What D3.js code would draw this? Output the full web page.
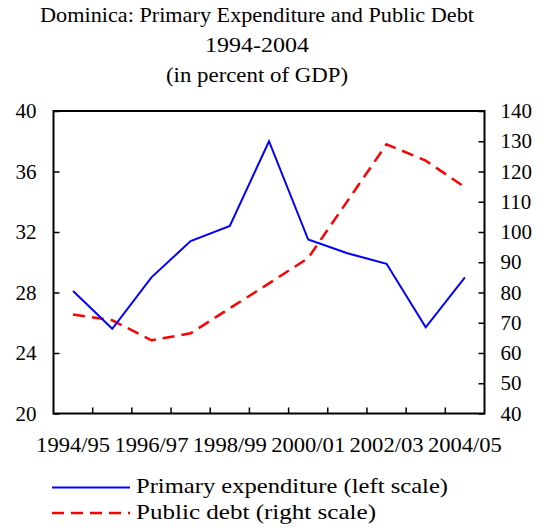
<!doctype html>
<html lang="en">
  <head>
    <meta charset="UTF-8" />
    <title>Dominica: Primary Expenditure and Public Debt</title>
    <script src="https://d3js.org/d3.v7.min.js"></script>
    <style>
      body {
        margin: 0;
        padding: 0;
        background: #fff;
      }
      svg text {
        font-family: 'Liberation Serif', 'Times New Roman', serif;
        fill: #000;
      }
    </style>
  </head>
  <body>
    <svg id="chart" width="541" height="527"></svg>

    <script>
      const years = [
        '1994/95', '1995/96', '1996/97', '1997/98', '1998/99', '1999/00',
        '2000/01', '2001/02', '2002/03', '2003/04', '2004/05',
      ];
      const expenditure = [28.1, 25.6, 29.0, 31.4, 32.4, 38.0, 31.5, 30.6, 29.9, 25.7, 29.0];
      const debt = [72.7, 70.8, 64.2, 66.5, 74.8, 83.0, 91.4, 110.2, 129.0, 123.6, 114.8];
      const leftTicks = [20, 24, 28, 32, 36, 40];
      const rightTicks = [40, 50, 60, 70, 80, 90, 100, 110, 120, 130, 140];
      const titleLines = [
        { text: 'Dominica: Primary Expenditure and Public Debt', width: 434 },
        { text: '1994-2004', width: 104 },
        { text: '(in percent of GDP)', width: 182 },
      ];
      const legendItems = [
        { label: 'Primary expenditure (left scale)', color: '#0000ff', dash: null, width: 312 },
        { label: 'Public debt (right scale)', color: '#ff0000', dash: '12,7', width: 240 },
      ];

      const plotLeft = 53.5, plotRight = 484.5, plotTop = 111, plotBottom = 413.5;
      const svg = d3.select('#chart');

      const x = d3.scaleBand().domain(years).range([plotLeft, plotRight]);
      const yL = d3.scaleLinear().domain([20, 40]).range([plotBottom, plotTop]);
      const yR = d3.scaleLinear().domain([40, 140]).range([plotBottom, plotTop]);

      // title
      svg
        .selectAll('.title')
        .data(titleLines)
        .enter()
        .append('text')
        .attr('class', 'title')
        .attr('x', 257)
        .attr('y', (d, i) => 22 + i * 30)
        .attr('text-anchor', 'middle')
        .attr('textLength', (d) => d.width)
        .attr('lengthAdjust', 'spacingAndGlyphs')
        .style('font-size', '21px')
        .text((d) => d.text);

      // left axis
      const gL = svg
        .append('g')
        .attr('transform', `translate(${plotLeft},0)`)
        .call(
          d3.axisLeft(yL).tickValues(leftTicks).tickSizeInner(-6).tickSizeOuter(0).tickPadding(17),
        );
      gL.selectAll('text').style('font-size', '21px');

      // right axis
      const gR = svg
        .append('g')
        .attr('transform', `translate(${plotRight},0)`)
        .call(
          d3.axisRight(yR).tickValues(rightTicks).tickSizeInner(-6).tickSizeOuter(0).tickPadding(16),
        );
      gR.selectAll('text').style('font-size', '21px');

      // bottom axis: labels every other year, tick marks between categories
      const gB = svg
        .append('g')
        .attr('transform', `translate(0,${plotBottom})`)
        .call(
          d3.axisBottom(x).tickValues(years.filter((d, i) => i % 2 === 0)).tickSize(0).tickPadding(24),
        );
      gB.selectAll('text')
        .style('font-size', '21px')
        .attr('textLength', 74)
        .attr('lengthAdjust', 'spacingAndGlyphs');

      svg
        .selectAll('.xtick')
        .data(years.slice(1))
        .enter()
        .append('line')
        .attr('class', 'xtick')
        .attr('x1', (d) => x(d))
        .attr('x2', (d) => x(d))
        .attr('y1', plotBottom)
        .attr('y2', plotBottom - 6)
        .attr('stroke', '#000')
        .attr('stroke-width', 1.5);

      svg.selectAll('.tick line').attr('stroke-width', 1.5);
      svg.selectAll('.domain').remove();

      // frame
      svg
        .append('rect')
        .attr('x', plotLeft)
        .attr('y', plotTop)
        .attr('width', plotRight - plotLeft)
        .attr('height', plotBottom - plotTop)
        .attr('fill', 'none')
        .attr('stroke', '#000')
        .attr('stroke-width', 2);

      const cx = (i) => x(years[i]) + x.bandwidth() / 2;

      // series
      svg
        .append('path')
        .datum(debt)
        .attr('fill', 'none')
        .attr('stroke', '#ff0000')
        .attr('stroke-width', 2.5)
        .attr('stroke-dasharray', '12,7')
        .attr('d', d3.line().x((d, i) => cx(i)).y((d) => yR(d)));

      svg
        .append('path')
        .datum(expenditure)
        .attr('fill', 'none')
        .attr('stroke', '#0000ff')
        .attr('stroke-width', 2)
        .attr('d', d3.line().x((d, i) => cx(i)).y((d) => yL(d)));

      // legend
      const lg = svg
        .selectAll('.legend')
        .data(legendItems)
        .enter()
        .append('g')
        .attr('class', 'legend')
        .attr('transform', (d, i) => `translate(52,${487.5 + i * 25.5})`);

      lg.append('line')
        .attr('x1', 0)
        .attr('x2', 78)
        .attr('stroke', (d) => d.color)
        .attr('stroke-width', (d) => (d.dash ? 2.5 : 2))
        .attr('stroke-dasharray', (d) => d.dash);

      lg.append('text')
        .attr('x', 84)
        .attr('y', 5.5)
        .attr('textLength', (d) => d.width)
        .attr('lengthAdjust', 'spacingAndGlyphs')
        .style('font-size', '22px')
        .text((d) => d.label);
    </script>
  </body>
</html>
